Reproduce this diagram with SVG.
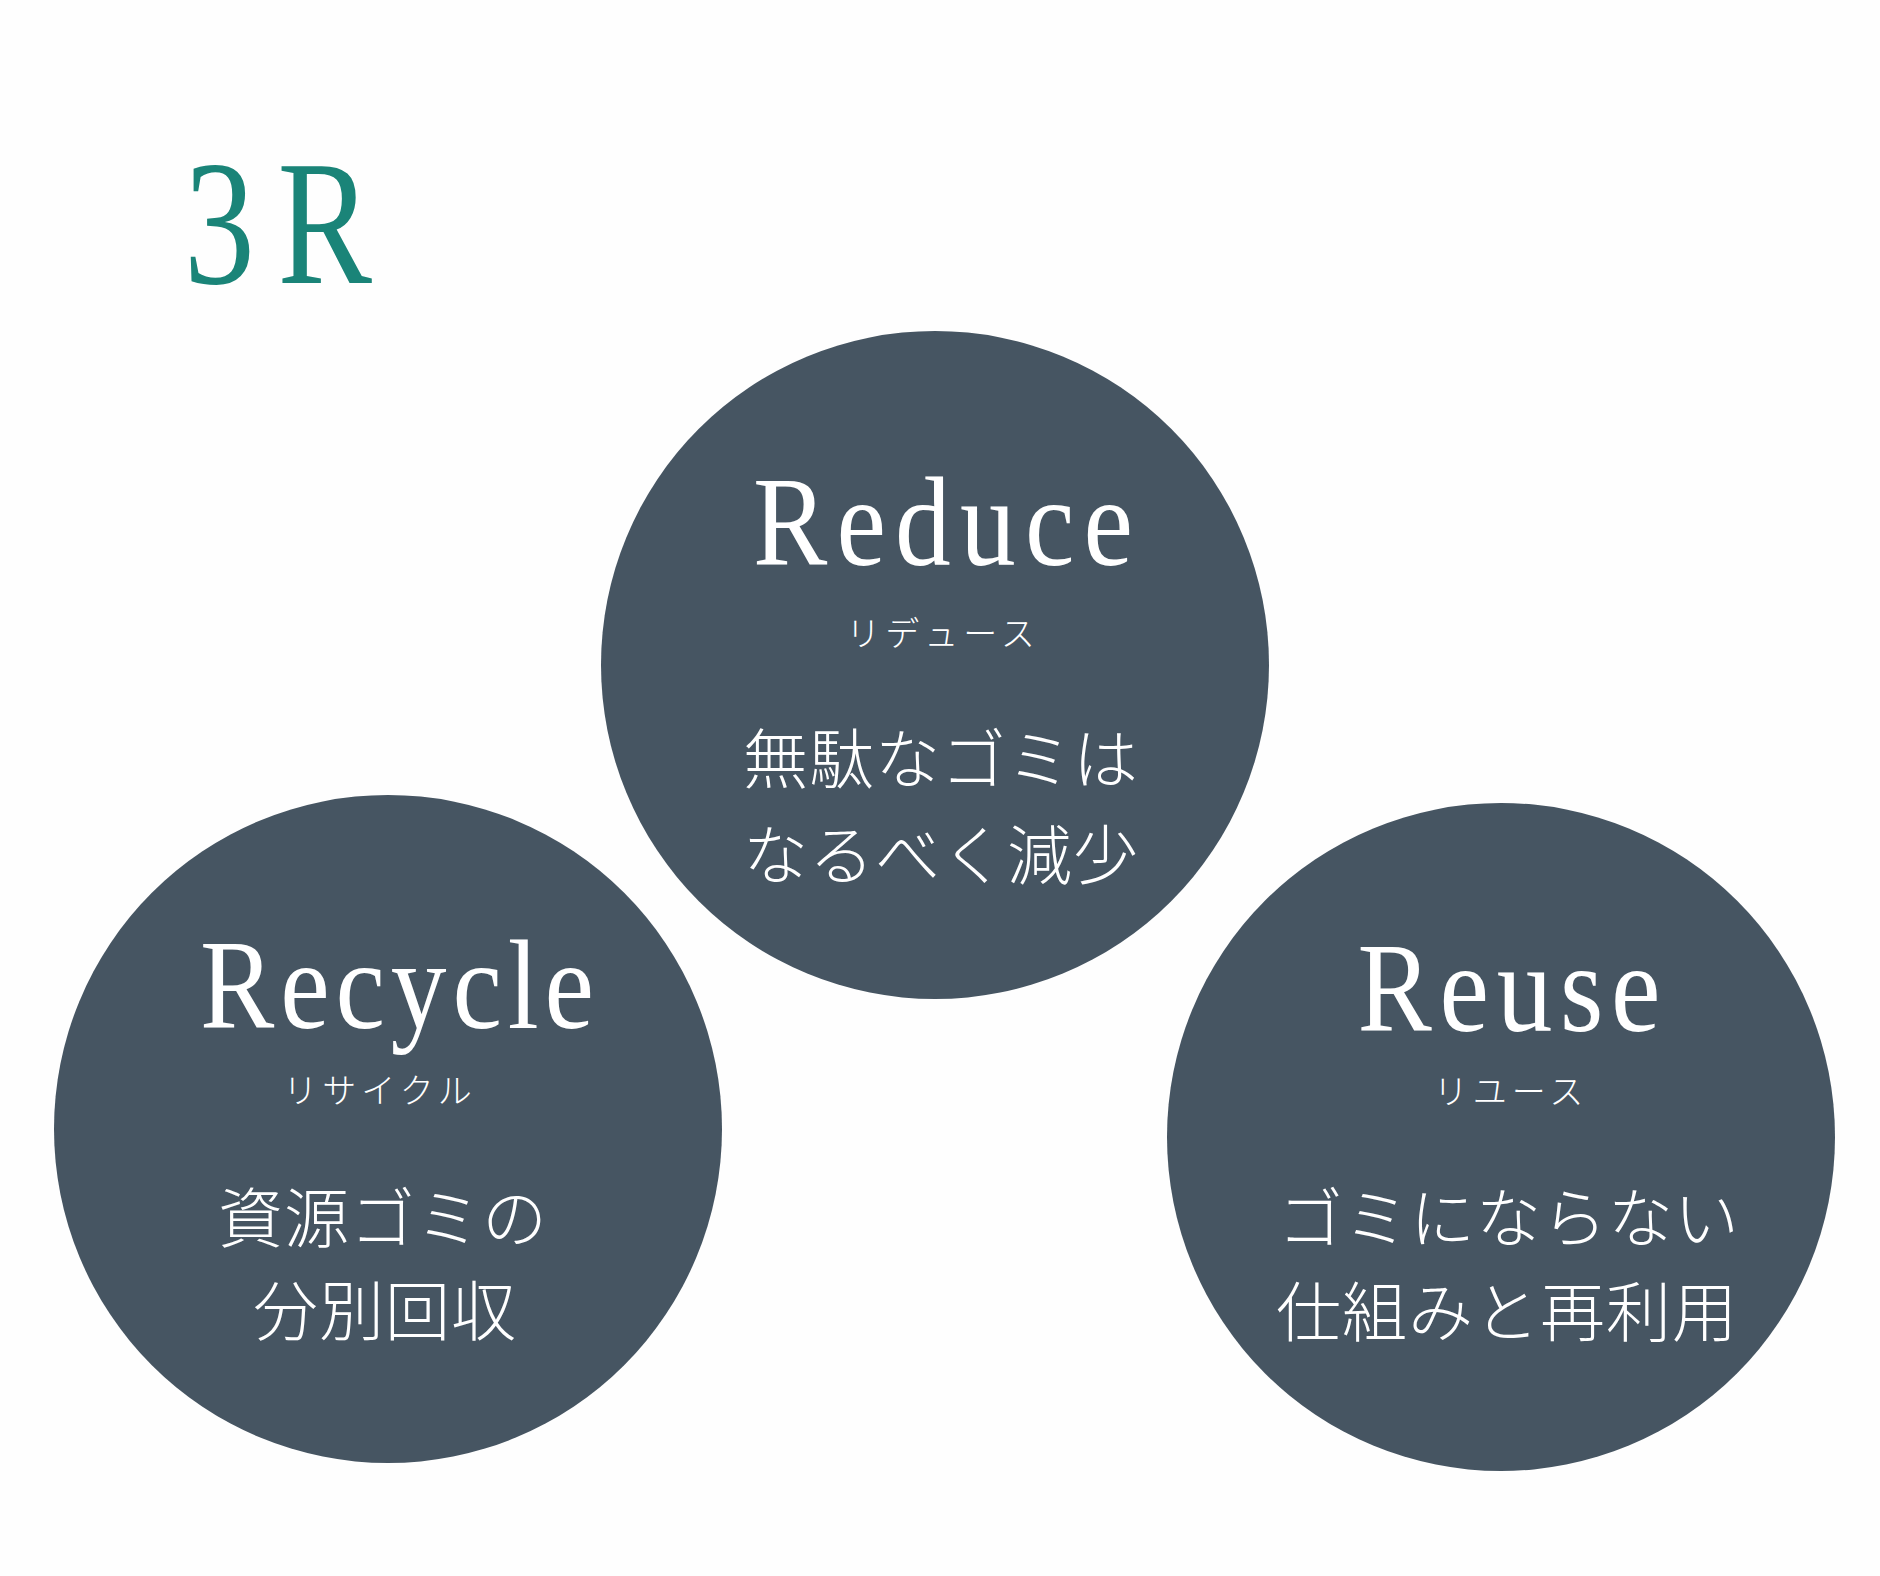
<svg xmlns="http://www.w3.org/2000/svg" width="1880" height="1576" viewBox="0 0 1880 1576">
<style>
.bg{fill:#fefefe}
.circle{fill:#465562}
.title{font-family:"Liberation Serif","DejaVu Serif",serif;fill:#ffffff;font-size:128px;text-anchor:middle}
.kana{font-family:"Noto Sans CJK JP","Noto Sans CJK SC",sans-serif;font-weight:300;fill:#ffffff;font-size:34px;letter-spacing:5px;text-anchor:middle}
.desc{font-family:"Noto Sans CJK JP","Noto Sans CJK SC",sans-serif;font-weight:300;fill:#ffffff;font-size:65px;letter-spacing:1px;text-anchor:middle}
.head{font-family:"Liberation Serif","DejaVu Serif",serif;fill:#1a8478;font-size:177px}
</style>
<rect class="bg" x="0" y="0" width="1880" height="1576"/>
<g id="heading">
<text class="head" transform="scale(0.8,1)" x="230" y="283" textLength="235" lengthAdjust="spacing">3R</text>
</g>
<g id="connectors"></g>
<g id="reduce">
<circle class="circle" cx="935" cy="665" r="334"/>
<text class="title" transform="scale(0.87,1)" x="1083.9" y="565" textLength="436.8" lengthAdjust="spacing">Reduce</text>
<text class="kana" x="943" y="646">リデュース</text>
<text class="desc" x="941" y="783">無駄なゴミは</text>
<text class="desc" x="941" y="879">なるべく減少</text>
</g>
<g id="recycle">
<circle class="circle" cx="388" cy="1129" r="334"/>
<text class="title" transform="scale(0.87,1)" x="456.3" y="1028" textLength="452.9" lengthAdjust="spacing">Recycle</text>
<text class="kana" x="380" y="1103">リサイクル</text>
<text class="desc" x="383" y="1242">資源ゴミの</text>
<text class="desc" x="385" y="1335">分別回収</text>
</g>
<g id="reuse">
<circle class="circle" cx="1501" cy="1137" r="334"/>
<text class="title" transform="scale(0.87,1)" x="1734.5" y="1031" textLength="348.3" lengthAdjust="spacing">Reuse</text>
<text class="kana" x="1511" y="1104">リユース</text>
<text class="desc" x="1509" y="1242">ゴミにならない</text>
<text class="desc" x="1507" y="1336">仕組みと再利用</text>
</g>
</svg>
